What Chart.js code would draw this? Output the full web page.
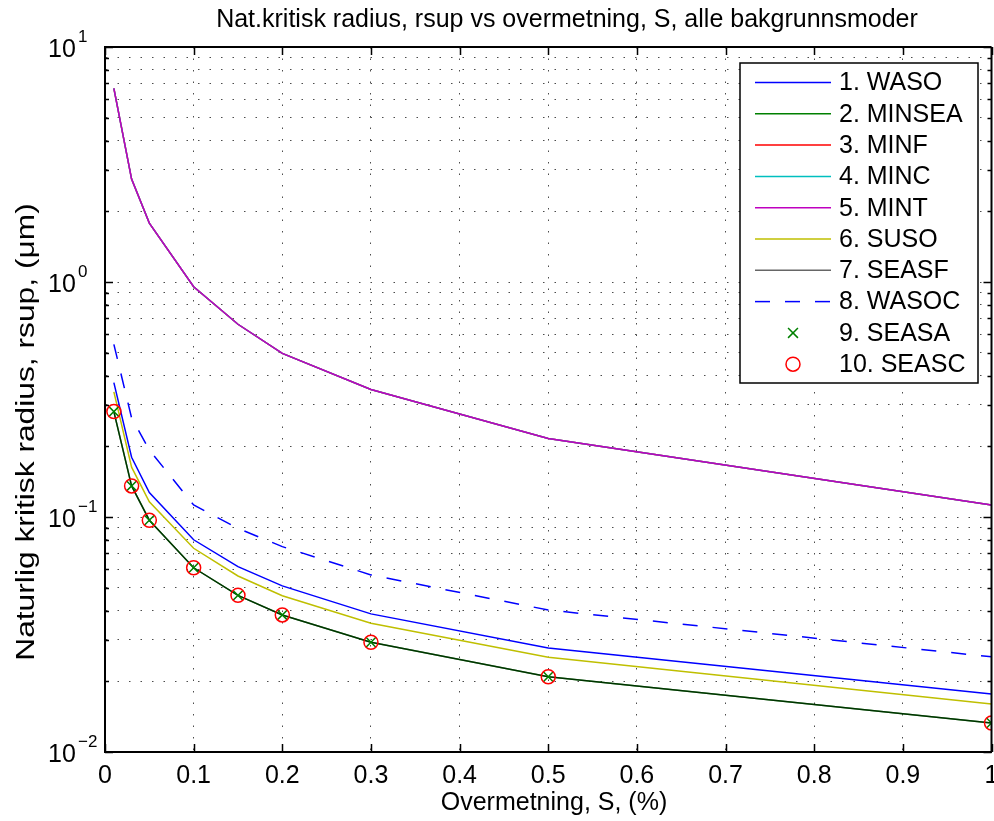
<!DOCTYPE html>
<html>
<head>
<meta charset="utf-8">
<script src="https://cdn.jsdelivr.net/npm/chart.js@4"></script>
<style>
  html, body { margin: 0; padding: 0; background: #fff; overflow: hidden; }
  canvas { display: block; }
</style>
</head>
<body>
<canvas id="chart" width="1000" height="821"></canvas>
<script>
// supersaturation S (%) on the x axis
const overmetning = [0.01, 0.03, 0.05, 0.1, 0.15, 0.2, 0.3, 0.5, 1.0];

// natural critical radius (um) per background mode
const waso   = [0.373, 0.1795, 0.127, 0.080, 0.0615, 0.0509, 0.0387, 0.0277, 0.01765];
const minsea = [0.281, 0.1356, 0.0969, 0.0608, 0.0464, 0.0383, 0.0293, 0.0209, 0.01329];
const minf   = [6.67, 2.74, 1.78, 0.955, 0.661, 0.497, 0.349, 0.216, 0.1125];
const minc   = [6.67, 2.74, 1.78, 0.955, 0.661, 0.497, 0.349, 0.216, 0.1125];
const mint   = [6.67, 2.74, 1.78, 0.955, 0.661, 0.497, 0.349, 0.216, 0.1125];
const suso   = [0.341, 0.163, 0.116, 0.0736, 0.0561, 0.0462, 0.0353, 0.0253, 0.0160];
const seasf  = [0.281, 0.1356, 0.0969, 0.0608, 0.0464, 0.0383, 0.0293, 0.0209, 0.01329];
const wasoc  = [0.543, 0.264, 0.193, 0.1125, 0.0895, 0.0748, 0.0567, 0.0402, 0.0254];
const seasa  = [0.281, 0.1356, 0.0969, 0.0608, 0.0464, 0.0383, 0.0293, 0.0209, 0.01329];
const seasc  = [0.281, 0.1356, 0.0969, 0.0608, 0.0464, 0.0383, 0.0293, 0.0209, 0.01329];

const seriesNames = ['1. WASO', '2. MINSEA', '3. MINF', '4. MINC', '5. MINT',
                     '6. SUSO', '7. SEASF', '8. WASOC', '9. SEASA', '10. SEASC'];

// tick labels
const xTickValues = [0, 0.1, 0.2, 0.3, 0.4, 0.5, 0.6, 0.7, 0.8, 0.9, 1];
const xTickLabels = ['0', '0.1', '0.2', '0.3', '0.4', '0.5', '0.6', '0.7', '0.8', '0.9', '1'];
const yDecades = [-2, -1, 0, 1];
const yExpLabels = ['\u22122', '\u22121', '0', '1'];

const FONT = '"Liberation Sans", Arial, sans-serif';
Chart.defaults.font.family = FONT;

const pts = (arr) => arr.map((y, i) => ({ x: overmetning[i], y }));

function lineSet(label, data, color, extra) {
  return Object.assign({
    label, data: pts(data),
    borderColor: color, backgroundColor: color,
    borderWidth: 1.5, pointRadius: 0, tension: 0, fill: false
  }, extra || {});
}

const datasets = [
  lineSet(seriesNames[0], waso, '#0000ff'),
  lineSet(seriesNames[1], minsea, '#008000'),
  lineSet(seriesNames[2], minf, '#ff0000'),
  lineSet(seriesNames[3], minc, '#00bfbf'),
  lineSet(seriesNames[4], mint, '#bf00bf'),
  lineSet(seriesNames[5], suso, '#bfbf00'),
  lineSet(seriesNames[6], seasf, 'rgba(0,0,0,0.6)'),
  lineSet(seriesNames[7], wasoc, '#0000ff', { borderDash: [15, 15] }),
  lineSet(seriesNames[8], seasa, '#008000', {
    showLine: false, pointStyle: 'crossRot', pointRadius: 7,
    pointBorderColor: '#008000', pointBorderWidth: 1.5
  }),
  lineSet(seriesNames[9], seasc, '#ff0000', {
    showLine: false, pointStyle: 'circle', pointRadius: 7,
    pointBorderColor: '#ff0000', pointBackgroundColor: 'rgba(0,0,0,0)', pointBorderWidth: 1.5
  })
];
// matlab draws later series on top
datasets.forEach((d, i) => { d.order = datasets.length - i; });

// frame, inward ticks, tick labels, titles and the boxed legend
const matlabAxes = {
  id: 'matlabAxes',
  afterDatasetsDraw(chart) {
    const { ctx, chartArea: a, scales: { x, y } } = chart;
    ctx.save();
    ctx.strokeStyle = '#000';
    ctx.lineWidth = 2;
    ctx.beginPath();
    ctx.moveTo(a.left, a.top); ctx.lineTo(a.right, a.top);
    ctx.moveTo(a.right, a.top); ctx.lineTo(a.right, a.bottom);
    ctx.stroke();
    ctx.lineWidth = 1.5;
    ctx.beginPath();
    y.ticks.forEach(t => {
      const py = Math.round(y.getPixelForValue(t.value)) + 0.5;
      const len = t.major ? 8 : 4;
      ctx.moveTo(a.left, py); ctx.lineTo(a.left + len, py);
      ctx.moveTo(a.right, py); ctx.lineTo(a.right - len, py);
    });
    xTickValues.forEach(v => {
      const px = Math.round(x.getPixelForValue(v)) + 0.5;
      ctx.moveTo(px, a.bottom); ctx.lineTo(px, a.bottom - 8);
      ctx.moveTo(px, a.top); ctx.lineTo(px, a.top + 8);
    });
    ctx.stroke();
    ctx.restore();
  },
  afterDraw(chart) {
    const { ctx, chartArea: a, scales: { x, y } } = chart;
    ctx.save();
    ctx.fillStyle = '#000';

    // x tick labels
    ctx.font = '25px ' + FONT;
    ctx.textAlign = 'center';
    ctx.textBaseline = 'alphabetic';
    xTickValues.forEach((v, i) => ctx.fillText(xTickLabels[i], x.getPixelForValue(v), 783));

    // y tick labels 10^k
    yDecades.forEach((k, i) => {
      const py = y.getPixelForValue(Math.pow(10, k));
      ctx.font = '25px ' + FONT;
      ctx.textAlign = 'left';
      ctx.fillText('10', 48, py + 9.5);
      ctx.font = '17px ' + FONT;
      ctx.fillText(yExpLabels[i], 78, py - 5);
    });

    // titles
    ctx.font = '25px ' + FONT;
    ctx.textAlign = 'center';
    ctx.fillText('Nat.kritisk radius, rsup vs overmetning, S, alle bakgrunnsmoder', 567, 27);
    ctx.fillText('Overmetning, S, (%)', 554, 810);
    ctx.save();
    ctx.translate(34, 432);
    ctx.rotate(-Math.PI / 2);
    ctx.scale(1.27, 1);
    ctx.fillText('Naturlig kritisk radius, rsup, (\u03bcm)', 0, 0);
    ctx.restore();

    // legend box
    const box = { left: 740, top: 63, right: 978, bottom: 383 };
    ctx.fillStyle = '#fff';
    ctx.fillRect(box.left, box.top, box.right - box.left, box.bottom - box.top);
    ctx.strokeStyle = '#000';
    ctx.lineWidth = 1.5;
    ctx.strokeRect(box.left, box.top, box.right - box.left, box.bottom - box.top);
    chart.data.datasets.forEach((ds, i) => {
      const ry = 82.5 + i * 31.3;
      if (ds.showLine !== false) {
        ctx.save();
        ctx.strokeStyle = ds.borderColor;
        ctx.lineWidth = ds.borderWidth;
        ctx.setLineDash(ds.borderDash || []);
        ctx.beginPath();
        ctx.moveTo(755, ry); ctx.lineTo(831, ry);
        ctx.stroke();
        ctx.restore();
      } else {
        ctx.save();
        ctx.strokeStyle = ds.pointBorderColor;
        ctx.fillStyle = 'rgba(0,0,0,0)';
        ctx.lineWidth = ds.pointBorderWidth;
        Chart.helpers.drawPoint(ctx, {
          pointStyle: ds.pointStyle, radius: ds.pointRadius,
          borderWidth: ds.pointBorderWidth, rotation: 0
        }, 793, ry);
        ctx.restore();
      }
      ctx.fillStyle = '#000';
      ctx.font = '25px ' + FONT;
      ctx.textAlign = 'left';
      ctx.textBaseline = 'middle';
      ctx.fillText(ds.label, 839, ry + 1);
    });
    ctx.restore();
  }
};

new Chart(document.getElementById('chart'), {
  type: 'line',
  data: { datasets },
  options: {
    responsive: false,
    animation: false,
    events: [],
    layout: { padding: { left: 0, top: 47, right: 4, bottom: 0 } },
    plugins: {
      legend: { display: false },
      title: { display: false },
      tooltip: { enabled: false }
    },
    scales: {
      x: {
        type: 'linear', min: 0, max: 1,
        afterBuildTicks: (s) => { s.ticks = xTickValues.map(v => ({ value: v })); },
        afterFit: (s) => { s.height = 69; },
        ticks: { display: false },
        grid: { color: 'rgba(0,0,0,0.7)', lineWidth: 1, drawTicks: false },
        border: { display: true, color: '#000', width: 2, dash: [1.5, 10] }
      },
      y: {
        type: 'logarithmic', min: 0.01, max: 10,
        afterBuildTicks: (s) => {
          const t = [];
          yDecades.forEach(k => {
            for (let m = 1; m <= 9; m++) {
              const v = m * Math.pow(10, k);
              if (v <= 10 + 1e-9) t.push({ value: v, major: m === 1 });
            }
          });
          s.ticks = t;
        },
        afterFit: (s) => { s.width = 105; },
        ticks: { display: false },
        grid: { color: 'rgba(0,0,0,0.7)', lineWidth: 1, drawTicks: false },
        border: { display: true, color: '#000', width: 2, dash: [1.5, 10] }
      }
    }
  },
  plugins: [matlabAxes]
});
</script>
</body>
</html>
